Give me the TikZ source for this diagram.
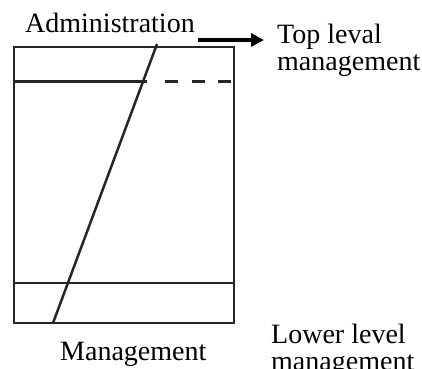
\documentclass[tikz,border=0pt]{standalone}
\usepackage{fontspec}
\setmainfont{Liberation Serif}
\usetikzlibrary{arrows.meta}
\begin{document}
\begin{tikzpicture}[x=1pt,y=-1pt,
  frame/.style={line width=2.5pt,black!85},
  lbl/.style={inner sep=0pt,anchor=base west,font=\fontsize{28}{28}\selectfont},
  pointer/.style={line width=3.2pt,-{Triangle[length=13pt,width=13pt]}}]
\useasboundingbox (0,0) rectangle (422,368);
% frame corners
\coordinate (tl) at (14,47);
\coordinate (br) at (234,323);
\draw[frame] (tl) rectangle (br);
% level lines
\coordinate (ul) at (14,81.5);
\coordinate (um) at (147,81.5);
\coordinate (ud) at (165,81.5);
\coordinate (ur) at (234,81.5);
\coordinate (ll) at (14,283);
\coordinate (lr) at (234,283);
\draw[frame] (ul) -- (um);
\draw[frame,dash pattern=on 13pt off 13.5pt] (ud) -- (ur);
\draw[frame] (ll) -- (lr);
% diagonal
\coordinate (dt) at (157,44);
\coordinate (db) at (53,323);
\draw[frame] (dt) -- (db);
% labels
\node[lbl] (adm) at (25,32) {Administration};
\node[lbl] (top1) at (277,43) {Top leval};
\node[lbl] (top2) at (277,70) {management};
\node[lbl] (mgt) at (60,360) {Management};
\node[lbl] (low1) at (271,343) {Lower level};
\node[lbl] (low2) at (271,370) {management};
% arrow
\coordinate (as) at (198,40);
\coordinate (ae) at (264,40);
\draw[pointer] (as) -- (ae);
\end{tikzpicture}
\end{document}
